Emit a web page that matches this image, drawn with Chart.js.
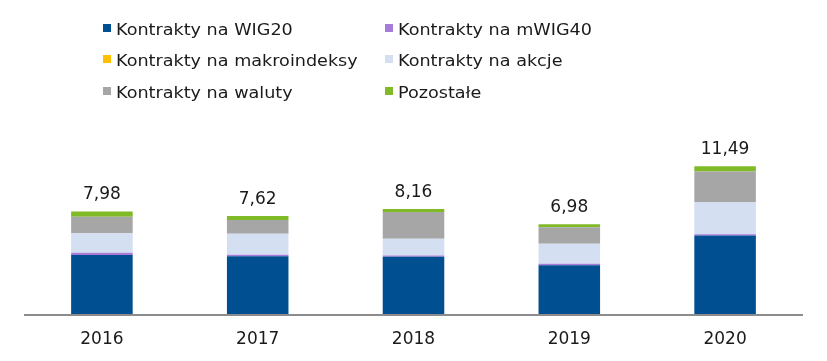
<!DOCTYPE html>
<html>
<head>
<meta charset="utf-8">
<script src="https://cdn.jsdelivr.net/npm/chart.js@4.4.1/dist/chart.umd.min.js"></script>
<style>
  html, body { margin: 0; padding: 0; background: #fff; }
  #wrap { position: relative; width: 827px; height: 361px; font-family: "DejaVu Sans", Verdana, sans-serif; }
  #c { position: absolute; left: 0; top: 0; }
  .lg { position: absolute; font-size: 16px; color: #1a1a1a; white-space: nowrap; line-height: 1; }
  .lg span.sw { position: absolute; left: -13px; top: 2px; width: 8px; height: 8px; }
  .lg span.tx { display: inline-block; transform: scaleX(1.1); transform-origin: 0 0; }
</style>
</head>
<body>
<div id="wrap">
  <canvas id="c" width="827" height="361"></canvas>
  <div id="legend"></div>
</div>
<script>
const categories = ["2016", "2017", "2018", "2019", "2020"];
const seriesNames = ["Kontrakty na WIG20", "Kontrakty na mWIG40", "Kontrakty na makroindeksy", "Kontrakty na akcje", "Kontrakty na waluty", "Pozostałe"];
const wig20      = [4.58, 4.50, 4.45, 3.80, 6.10];
const mwig40     = [0.18, 0.10, 0.10, 0.10, 0.10];
const makro      = [0.00, 0.00, 0.00, 0.00, 0.00];
const akcje      = [1.53, 1.64, 1.31, 1.56, 2.52];
const waluty     = [1.28, 1.07, 2.07, 1.28, 2.36];
const pozostale  = [0.41, 0.31, 0.23, 0.24, 0.41];
const totals     = [7.98, 7.62, 8.16, 6.98, 11.49];
const colors = ["#004F91", "#A77BD8", "#FFC000", "#D4DFF2", "#A6A6A6", "#80BA27"];

const seriesData = [wig20, mwig40, makro, akcje, waluty, pozostale];

// HTML legend (2 columns, 3 rows; order: row-major)
const legendEl = document.getElementById('legend');
const colX = [116, 398];
const rowY = [22, 53, 85];
seriesNames.forEach((name, i) => {
  const d = document.createElement('div');
  d.className = 'lg';
  d.style.left = colX[i % 2] + 'px';
  d.style.top = rowY[Math.floor(i / 2)] + 'px';
  const sw = document.createElement('span');
  sw.className = 'sw';
  sw.style.background = colors[i];
  d.appendChild(sw);
  const tx = document.createElement('span');
  tx.className = 'tx';
  tx.textContent = name;
  d.appendChild(tx);
  legendEl.appendChild(d);
});

const totalsPlugin = {
  id: 'totals',
  afterDatasetsDraw(chart) {
    const ctx = chart.ctx;
    const x = chart.scales.x, y = chart.scales.y;
    ctx.save();
    ctx.font = '17px "DejaVu Sans", Verdana, sans-serif';
    ctx.fillStyle = '#1a1a1a';
    ctx.textAlign = 'center';
    ctx.textBaseline = 'alphabetic';
    totals.forEach((t, i) => {
      ctx.fillText(t.toFixed(2).replace('.', ','), x.getPixelForValue(i), y.getPixelForValue(t) - 12);
    });
    ctx.restore();
  }
};

const axisLinePlugin = {
  id: 'axisLine',
  afterDatasetsDraw(chart) {
    const ctx = chart.ctx, a = chart.chartArea;
    ctx.save();
    ctx.strokeStyle = '#8c8c8c';
    ctx.lineWidth = 2;
    ctx.beginPath();
    ctx.moveTo(a.left, a.bottom + 1);
    ctx.lineTo(a.right, a.bottom + 1);
    ctx.stroke();
    ctx.restore();
  }
};

new Chart(document.getElementById('c'), {
  type: 'bar',
  data: {
    labels: categories,
    datasets: seriesData.map((d, i) => ({
      label: seriesNames[i],
      data: d,
      backgroundColor: colors[i],
      borderWidth: 0,
      barPercentage: 0.395,
      categoryPercentage: 1.0
    }))
  },
  options: {
    responsive: false,
    animation: false,
    devicePixelRatio: 1,
    layout: { padding: { top: 134, left: 24, right: 24, bottom: 0 } },
    plugins: { legend: { display: false }, tooltip: { enabled: false } },
    scales: {
      x: {
        stacked: true,
        grid: { display: false, drawTicks: false },
        border: { display: false },
        ticks: { color: '#1a1a1a', font: { family: '"DejaVu Sans", Verdana, sans-serif', size: 17 }, padding: 15 },
        afterFit: s => { s.height = 47; }
      },
      y: {
        stacked: true,
        display: false,
        min: 0,
        max: 14
      }
    }
  },
  plugins: [totalsPlugin, axisLinePlugin]
});
</script>
</body>
</html>
